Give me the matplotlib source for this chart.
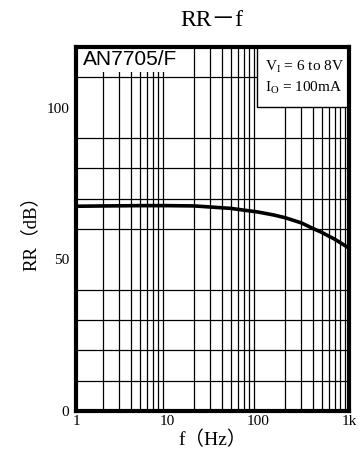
import matplotlib
matplotlib.use("Agg")
import matplotlib.pyplot as plt
from matplotlib.patches import Rectangle
from matplotlib.ticker import FixedLocator, NullFormatter

# values
freq = [1, 2, 5, 10, 20, 50, 100, 150, 200, 300, 400, 500, 700, 1000]
rr = [67.5, 67.6, 67.7, 67.7, 67.6, 66.8, 65.6, 64.6, 63.7, 62.0, 60.2, 58.9, 56.6, 53.7]

x_ticks = [1, 10, 100, 1000]
x_tick_labels = ["1", "10", "100", "1k"]
y_ticks = [0, 50, 100]
y_tick_labels = ["0", "50", "100"]

serif = ["Liberation Serif", "Noto Sans CJK JP"]
plt.rcParams["mathtext.fontset"] = "custom"
plt.rcParams["mathtext.rm"] = "Liberation Serif"

fig = plt.figure(figsize=(3.64, 4.66), dpi=100)
ax = fig.add_axes([76 / 364, 1 - 411 / 466, 273 / 364, 364 / 466])

ax.set_xscale("log")
ax.set_xlim(1, 1000)
ax.set_ylim(0, 120)

# grid
minor_x = [m * 10 ** d for d in range(3) for m in range(1, 10)]
ax.xaxis.set_minor_locator(FixedLocator(minor_x))
ax.xaxis.set_minor_formatter(NullFormatter())
ax.yaxis.set_minor_locator(FixedLocator(list(range(0, 121, 10))))
ax.grid(which="minor", color="black", linewidth=0.9)
ax.set_axisbelow(True)

ax.plot(freq, rr, color="black", linewidth=2.6, solid_capstyle="butt", zorder=3)

ax.set_xticks(x_ticks)
ax.set_xticklabels(x_tick_labels, family=serif, fontsize=11)
ax.set_yticks(y_ticks)
ax.set_yticklabels(y_tick_labels, family=serif, fontsize=11)
ax.tick_params(which="both", length=0, pad=3)
ax.tick_params(axis="y", pad=5)

for s in ax.spines.values():
    s.set_linewidth(3)
    s.set_zorder(5)

ax.set_xlabel("f（Hz）", family=serif, fontsize=14, labelpad=2)
ax.set_ylabel("RR（dB）", family=serif, fontsize=13.5, labelpad=5)
fig.text(212 / 364, 1 - 20 / 466, "RR－f", family=serif, fontsize=17,
         ha="center", va="center")

# part number label on white
ax.add_patch(Rectangle((0, (411 - 72) / 364), (183 - 76) / 273, 1 - (411 - 72) / 364,
                       transform=ax.transAxes, facecolor="white", edgecolor="none", zorder=2.5))
ax.text(7 / 273, 1 - 3 / 364, "AN7705/F", transform=ax.transAxes, family="Liberation Sans",
        fontsize=15, ha="left", va="top", zorder=4)

# conditions box
ax.add_patch(Rectangle(((257 - 76) / 273, (411 - 107) / 364), 1 - (257 - 76) / 273, 1 - (411 - 107) / 364,
                       transform=ax.transAxes, facecolor="white", edgecolor="black",
                       linewidth=1, zorder=2.5))
ax.text((265 - 76) / 273, 1 - 20 / 364, "V$_{\\rm I}$ = 6 to 8V", transform=ax.transAxes,
        family=serif, fontsize=11, ha="left", va="center", zorder=4)
ax.text((265 - 76) / 273, 1 - 41 / 364, "I$_{\\rm O}$ = 100mA", transform=ax.transAxes,
        family=serif, fontsize=11, ha="left", va="center", zorder=4)

fig.savefig("out.png", dpi=100)
